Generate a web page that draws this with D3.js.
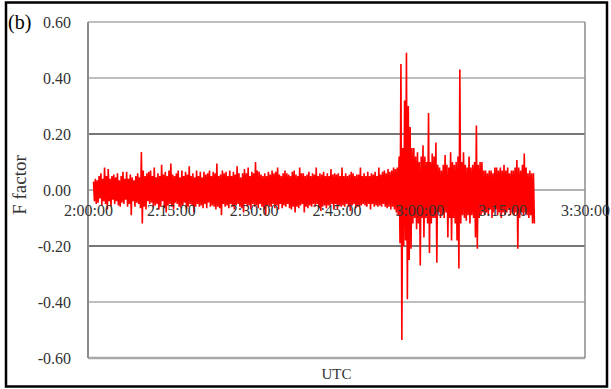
<!DOCTYPE html>
<html>
<head>
<meta charset="utf-8">
<script src="https://cdn.jsdelivr.net/npm/d3@7"></script>
<style>
  body { margin: 0; background: #fff; }
  svg text { font-family: "Liberation Serif", "Times New Roman", serif; }
</style>
</head>
<body>
<svg id="chart" width="611" height="389"></svg>
<script>
// y ticks of the chart
var yTicks = [0.6, 0.4, 0.2, 0, -0.2, -0.4, -0.6];
var yLabels = ['0.60', '0.40', '0.20', '0.00', '-0.20', '-0.40', '-0.60'];
// x ticks (UTC)
var xTicks = ['2:00:00', '2:15:00', '2:30:00', '2:45:00', '3:00:00', '3:15:00', '3:30:00'];
var xDomain = ['2:00:00', '3:30:00'];

// F factor, one value each 10 s, starting at 2:01:00 (one row = one minute)
var seriesStart = '2:01:00';
var stepSeconds = 10;
var fRows = [
    [0.03, -0.04, 0.04, -0.05, 0.035, -0.045],      // 2:01
    [0.05, -0.03, 0.06, -0.055, 0.04, -0.04],
    [0.08, -0.05, 0.05, -0.07, 0.075, -0.04],
    [0.04, -0.06, 0.05, -0.035, 0.055, -0.05],
    [0.045, -0.04, 0.06, -0.055, 0.035, -0.06],
    [0.05, -0.045, 0.065, -0.05, 0.04, -0.035],
    [0.065, -0.06, 0.04, -0.05, 0.055, -0.09],
    [0.045, -0.04, 0.035, -0.06, 0.05, -0.045],
    [0.06, -0.05, 0.045, -0.065, 0.136, -0.12],
    [0.07, -0.06, 0.05, -0.07, 0.06, -0.04],       // 2:10
    [0.065, -0.05, 0.07, -0.045, 0.05, -0.06],
    [0.08, -0.055, 0.045, -0.05, 0.06, -0.07],
    [0.05, -0.06, 0.09, -0.04, 0.055, -0.065],
    [0.065, -0.08, 0.05, -0.055, 0.07, -0.05],
    [0.095, -0.06, 0.055, -0.07, 0.05, -0.045],
    [0.06, -0.05, 0.07, -0.06, 0.045, -0.065],
    [0.07, -0.055, 0.05, -0.045, 0.065, -0.07],
    [0.055, -0.06, 0.085, -0.05, 0.05, -0.055],
    [0.06, -0.08, 0.045, -0.06, 0.07, -0.05],
    [0.05, -0.06, 0.065, -0.055, 0.045, -0.065],   // 2:20
    [0.065, -0.05, 0.055, -0.065, 0.06, -0.045],
    [0.07, -0.06, 0.05, -0.055, 0.065, -0.06],
    [0.06, -0.07, 0.095, -0.06, 0.05, -0.065],
    [0.055, -0.09, 0.07, -0.05, 0.06, -0.06],
    [0.065, -0.055, 0.05, -0.065, 0.07, -0.05],
    [0.05, -0.06, 0.065, -0.07, 0.055, -0.055],
    [0.085, -0.05, 0.06, -0.06, 0.045, -0.065],
    [0.06, -0.08, 0.075, -0.05, 0.06, -0.06],
    [0.08, -0.055, 0.05, -0.07, 0.065, -0.05],
    [0.06, -0.06, 0.1, -0.055, 0.07, -0.065],      // 2:30
    [0.065, -0.05, 0.055, -0.06, 0.05, -0.07],
    [0.06, -0.09, 0.05, -0.055, 0.065, -0.06],
    [0.055, -0.06, 0.07, -0.05, 0.06, -0.065],
    [0.065, -0.055, 0.08, -0.07, 0.055, -0.05],
    [0.05, -0.065, 0.06, -0.055, 0.07, -0.06],
    [0.06, -0.05, 0.055, -0.065, 0.05, -0.07],
    [0.065, -0.06, 0.07, -0.08, 0.055, -0.06],
    [0.05, -0.065, 0.08, -0.055, 0.06, -0.05],
    [0.06, -0.08, 0.05, -0.06, 0.055, -0.065],
    [0.065, -0.055, 0.05, -0.06, 0.06, -0.05],     // 2:40
    [0.055, -0.06, 0.08, -0.05, 0.05, -0.065],
    [0.06, -0.075, 0.055, -0.06, 0.065, -0.055],
    [0.05, -0.065, 0.06, -0.055, 0.05, -0.06],
    [0.075, -0.05, 0.055, -0.07, 0.06, -0.05],
    [0.055, -0.07, 0.06, -0.055, 0.05, -0.06],
    [0.08, -0.055, 0.05, -0.06, 0.06, -0.05],
    [0.05, -0.06, 0.055, -0.075, 0.065, -0.055],
    [0.06, -0.05, 0.05, -0.065, 0.055, -0.06],
    [0.055, -0.06, 0.08, -0.055, 0.05, -0.05],
    [0.06, -0.055, 0.05, -0.06, 0.065, -0.05],     // 2:50
    [0.05, -0.07, 0.06, -0.05, 0.055, -0.06],
    [0.065, -0.055, 0.05, -0.06, 0.08, -0.055],
    [0.055, -0.06, 0.065, -0.05, 0.07, -0.06],
    [0.06, -0.065, 0.075, -0.06, 0.065, -0.07],
    [0.07, -0.06, 0.08, -0.07, 0.075, -0.08],
    [0.08, -0.09, 0.12, -0.19, 0.45, -0.536],
    [0.15, -0.2, 0.32, -0.18, 0.49, -0.39],
    [0.3, -0.25, 0.225, -0.21, 0.15, -0.12],
    [0.15, -0.1, 0.12, -0.14, 0.135, -0.12],
    [0.1, -0.27, 0.12, -0.1, 0.16, -0.17],         // 3:00
    [0.12, -0.1, 0.1, -0.12, 0.275, -0.225],
    [0.1, -0.12, 0.13, -0.1, 0.12, -0.1],
    [0.17, -0.26, 0.09, -0.08, 0.08, -0.1],
    [0.07, -0.09, 0.09, -0.1, 0.125, -0.08],
    [0.09, -0.17, 0.08, -0.1, 0.135, -0.18],
    [0.1, -0.1, 0.09, -0.12, 0.1, -0.18],
    [0.12, -0.28, 0.43, -0.12, 0.1, -0.09],
    [0.135, -0.1, 0.09, -0.11, 0.08, -0.09],
    [0.12, -0.12, 0.08, -0.09, 0.09, -0.1],
    [0.1, -0.17, 0.23, -0.21, 0.09, -0.1],         // 3:10
    [0.1, -0.09, 0.1, -0.08, 0.07, -0.09],
    [0.07, -0.08, 0.06, -0.09, 0.07, -0.07],
    [0.07, -0.1, 0.06, -0.08, 0.08, -0.07],
    [0.08, -0.09, 0.07, -0.08, 0.08, -0.1],
    [0.07, -0.08, 0.09, -0.09, 0.07, -0.08],
    [0.08, -0.07, 0.06, -0.09, 0.07, -0.08],
    [0.07, -0.09, 0.08, -0.08, 0.107, -0.21],
    [0.08, -0.1, 0.07, -0.08, 0.09, -0.09],
    [0.13, -0.08, 0.08, -0.09, 0.06, -0.1],
    [0.07, -0.09, 0.06, -0.12, 0.06, -0.12]        // 3:20
];

function parseT(s) {
    var p = s.split(':');
    return new Date(Date.UTC(2000, 0, 1, +p[0], +p[1], +p[2]));
}

function drawChart() {
    var svg = d3.select('#chart');
    var left = 88, right = 585, top = 22, bottom = 358;

    // frame
    svg.append('rect').attr('x', 6).attr('y', 2.5).attr('width', 601).attr('height', 384)
        .attr('fill', 'none').attr('stroke', '#000').attr('stroke-width', 2.5);

    var x = d3.scaleUtc().domain(xDomain.map(parseT)).range([left, right]);
    var y = d3.scaleLinear().domain([-0.6, 0.6]).range([bottom, top]);

    // gridlines
    var grid = svg.append('g');
    yTicks.forEach(function (t) {
        var c = '#a8a8a8', w = 1.5;
        if (Math.abs(Math.abs(t) - 0.2) < 1e-6) { c = '#4a4a4a'; w = 1.5; }
        if (t === 0) { c = '#9a9a9a'; }
        if (t === -0.6) { w = 2.5; }
        grid.append('line').attr('x1', left).attr('x2', right)
            .attr('y1', y(t)).attr('y2', y(t)).attr('stroke', c).attr('stroke-width', w);
    });
    // left and right borders of the plot
    grid.append('line').attr('x1', left).attr('x2', left).attr('y1', top).attr('y2', bottom)
        .attr('stroke', '#8c8c8c').attr('stroke-width', 2);
    grid.append('line').attr('x1', right).attr('x2', right).attr('y1', top).attr('y2', bottom)
        .attr('stroke', '#8c8c8c').attr('stroke-width', 1.5);

    // data
    var t0 = parseT(seriesStart).getTime();
    var values = [].concat.apply([], fRows);
    var data = values.map(function (v, i) {
        return {t: new Date(t0 + i * stepSeconds * 1000), v: v};
    });
    var line = d3.line().x(function (d) { return x(d.t); }).y(function (d) { return y(d.v); });
    svg.append('path').datum(data).attr('d', line)
        .attr('fill', 'none').attr('stroke', '#ff0000').attr('stroke-width', 1.6)
        .attr('stroke-linejoin', 'miter').attr('stroke-miterlimit', 1);

    // y axis labels
    var yAxis = d3.axisLeft(y).tickValues(yTicks)
        .tickFormat(function (d, i) { return yLabels[i]; })
        .tickSize(0).tickPadding(17);
    var gy = svg.append('g').attr('transform', 'translate(' + left + ',0)').call(yAxis);
    gy.select('.domain').remove();
    gy.selectAll('text').attr('font-size', 16).attr('fill', '#333')
        .style('font-family', '"Liberation Serif", serif');

    // x axis at zero, labels drawn over the data
    var xAxis = d3.axisBottom(x).tickValues(xTicks.map(parseT))
        .tickFormat(function (d, i) { return xTicks[i]; })
        .tickSize(0).tickPadding(15);
    var gx = svg.append('g').attr('transform', 'translate(0,' + y(0) + ')').call(xAxis);
    gx.select('.domain').remove();
    gx.selectAll('text').attr('font-size', 16).attr('fill', '#333')
        .style('font-family', '"Liberation Serif", serif');

    // titles
    svg.append('text').attr('x', 8).attr('y', 29).attr('font-size', 20).attr('fill', '#000').text('(b)');
    svg.append('text').attr('transform', 'translate(26,185) rotate(-90)')
        .attr('text-anchor', 'middle').attr('font-size', 19).attr('fill', '#333').text('F factor');
    svg.append('text').attr('x', (left + right) / 2).attr('y', 379)
        .attr('text-anchor', 'middle').attr('font-size', 15).attr('fill', '#333').text('UTC');
}

drawChart();
</script>
</body>
</html>
